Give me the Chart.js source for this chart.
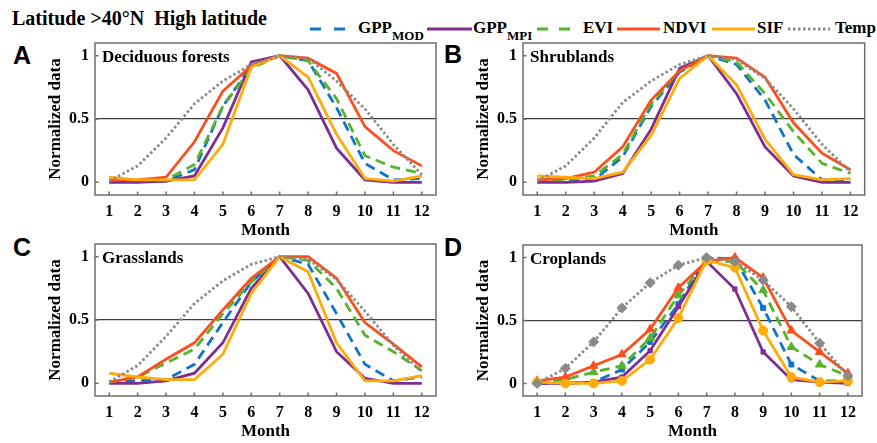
<!DOCTYPE html>
<html>
<head>
<meta charset="utf-8">
<script src="https://cdn.jsdelivr.net/npm/chart.js"></script>
<style>
  body { margin: 0; width: 877px; height: 443px; overflow: hidden; background: #fff; position: relative; font-family: 'Liberation Serif', 'Times New Roman', serif; }
  .abs { position: absolute; white-space: nowrap; }
  #title { left: 12px; top: 8px; font-size: 20px; line-height: 20px; font-weight: bold; }
  .leg { top: 19px; font-size: 17px; line-height: 17px; font-weight: bold; }
  .leg sub { font-size: 13px; vertical-align: -7px; line-height: 0; }
  .letter { font-family: 'Liberation Sans', Arial, sans-serif; font-size: 25px; line-height: 25px; font-weight: bold; }
  .panel { position: absolute; width: 440px; height: 205px; }
</style>
</head>
<body>
<div id="title" class="abs">Latitude &gt;40°N&nbsp; High latitude</div>

<svg class="abs" style="left:0;top:0" width="877" height="40">
  <line x1="310" y1="29" x2="345" y2="29" stroke="#0F74C4" stroke-width="3" stroke-dasharray="11 13"/>
  <line x1="427" y1="29" x2="472" y2="29" stroke="#7E2D91" stroke-width="3"/>
  <line x1="537" y1="29" x2="570" y2="29" stroke="#57B22C" stroke-width="3" stroke-dasharray="11 11"/>
  <line x1="617" y1="29" x2="660" y2="29" stroke="#FA501E" stroke-width="3"/>
  <line x1="712" y1="29" x2="755" y2="29" stroke="#FFAB0A" stroke-width="3"/>
  <line x1="788" y1="29" x2="830" y2="29" stroke="#8A8A8A" stroke-width="3" stroke-dasharray="2.5 2.5"/>
</svg>
<div class="abs leg" style="left:358px">GPP<sub>MOD</sub></div>
<div class="abs leg" style="left:473px">GPP<sub>MPI</sub></div>
<div class="abs leg" style="left:583px">EVI</div>
<div class="abs leg" style="left:663px">NDVI</div>
<div class="abs leg" style="left:757px">SIF</div>
<div class="abs leg" style="left:835px">Temp</div>

<div class="abs letter" style="left:13px;top:43px">A</div>
<div class="abs letter" style="left:444px;top:42px">B</div>
<div class="abs letter" style="left:13px;top:235px">C</div>
<div class="abs letter" style="left:444px;top:235px">D</div>

<div class="panel" style="left:0;top:38px"><canvas id="chartA" width="440" height="205"></canvas></div>
<div class="panel" style="left:428px;top:38px"><canvas id="chartB" width="440" height="205"></canvas></div>
<div class="panel" style="left:0;top:239px"><canvas id="chartC" width="440" height="205"></canvas></div>
<div class="panel" style="left:428px;top:239px"><canvas id="chartD" width="440" height="205"></canvas></div>

<script>
// months on the x axis
const months = ['1', '2', '3', '4', '5', '6', '7', '8', '9', '10', '11', '12'];
const yTicks = [0, 0.5, 1];

// A - Deciduous forests
const decidGppMod = [0.01, 0.01, 0.01, 0.10, 0.60, 0.92, 1.00, 0.96, 0.59, 0.15, 0.02, 0.03];
const decidGppMpi = [0.00, 0.00, 0.01, 0.05, 0.43, 0.95, 1.00, 0.73, 0.27, 0.02, 0.00, 0.00];
const decidEvi    = [0.02, 0.02, 0.02, 0.14, 0.60, 0.90, 1.00, 0.96, 0.66, 0.21, 0.12, 0.07];
const decidNdvi   = [0.02, 0.02, 0.04, 0.32, 0.72, 0.92, 1.00, 0.98, 0.86, 0.44, 0.25, 0.13];
const decidSif    = [0.04, 0.02, 0.02, 0.02, 0.30, 0.91, 1.00, 0.83, 0.38, 0.03, 0.01, 0.05];
const decidTemp   = [0.01, 0.13, 0.35, 0.62, 0.80, 0.93, 1.00, 0.98, 0.80, 0.58, 0.30, 0.06];

// B - Shrublands
const shrubGppMod = [0.01, 0.01, 0.02, 0.20, 0.60, 0.87, 1.00, 0.93, 0.65, 0.22, 0.02, 0.02];
const shrubGppMpi = [0.00, 0.00, 0.01, 0.07, 0.42, 0.90, 1.00, 0.70, 0.28, 0.05, 0.00, 0.00];
const shrubEvi    = [0.02, 0.02, 0.05, 0.22, 0.62, 0.88, 1.00, 0.95, 0.70, 0.40, 0.15, 0.07];
const shrubNdvi   = [0.02, 0.03, 0.08, 0.28, 0.65, 0.88, 1.00, 0.98, 0.83, 0.47, 0.23, 0.10];
const shrubSif    = [0.05, 0.04, 0.03, 0.08, 0.37, 0.82, 1.00, 0.77, 0.34, 0.06, 0.02, 0.03];
const shrubTemp   = [0.01, 0.13, 0.35, 0.63, 0.80, 0.93, 1.00, 0.97, 0.82, 0.58, 0.30, 0.08];

// C - Grasslands
const grassGppMod = [0.01, 0.02, 0.03, 0.15, 0.48, 0.80, 1.00, 0.94, 0.55, 0.15, 0.02, 0.05];
const grassGppMpi = [0.00, 0.00, 0.02, 0.08, 0.32, 0.75, 1.00, 0.71, 0.25, 0.04, 0.00, 0.00];
const grassEvi    = [0.01, 0.05, 0.16, 0.27, 0.55, 0.80, 1.00, 0.97, 0.75, 0.38, 0.25, 0.10];
const grassNdvi   = [0.01, 0.05, 0.19, 0.32, 0.58, 0.83, 1.00, 1.00, 0.83, 0.48, 0.31, 0.13];
const grassSif    = [0.08, 0.05, 0.03, 0.03, 0.23, 0.71, 1.00, 0.88, 0.32, 0.02, 0.02, 0.06];
const grassTemp   = [0.01, 0.14, 0.37, 0.63, 0.81, 0.94, 1.00, 0.98, 0.82, 0.57, 0.30, 0.09];

// D - Croplands
const cropGppMod = [0.00, 0.00, 0.01, 0.11, 0.33, 0.63, 1.00, 0.99, 0.60, 0.15, 0.02, 0.02];
const cropGppMpi = [0.00, 0.00, 0.01, 0.05, 0.26, 0.61, 0.97, 0.75, 0.25, 0.03, 0.01, 0.00];
const cropEvi    = [0.01, 0.03, 0.09, 0.14, 0.36, 0.70, 0.97, 0.97, 0.74, 0.29, 0.15, 0.06];
const cropNdvi   = [0.02, 0.05, 0.14, 0.23, 0.43, 0.76, 0.97, 1.00, 0.84, 0.42, 0.25, 0.08];
const cropSif    = [0.01, 0.00, 0.00, 0.02, 0.19, 0.52, 0.98, 0.92, 0.42, 0.05, 0.01, 0.02];
const cropTemp   = [0.00, 0.12, 0.33, 0.60, 0.80, 0.94, 1.00, 0.97, 0.82, 0.61, 0.32, 0.06];

const serif = "'Liberation Serif', 'Times New Roman', serif";

// line look of each series, same order as the legend
const seriesStyle = [
  { label: 'GPP MOD', color: '#0F74C4', dash: [10, 6], marker: 'rect', radius: 3.5 },
  { label: 'GPP MPI', color: '#7E2D91', dash: [], marker: 'rect', radius: 3 },
  { label: 'EVI', color: '#57B22C', dash: [10, 6], marker: 'triangle', radius: 5 },
  { label: 'NDVI', color: '#FA501E', dash: [], marker: 'triangle', radius: 5 },
  { label: 'SIF', color: '#FFAB0A', dash: [], marker: 'circle', radius: 4.5 },
  { label: 'Temp', color: '#8A8A8A', dash: [2.5, 2.5], marker: 'rectRot', radius: 5 }
];

// box, inner ticks and the panel name (MATLAB style axes)
const panelFrame = {
  id: 'panelFrame',
  beforeDatasetsDraw(chart, args, opts) {
    const { ctx, chartArea: a, scales: { x, y } } = chart;
    ctx.save();
    ctx.strokeStyle = '#6e6e6e';
    ctx.lineWidth = 1.5;
    ctx.strokeRect(a.left, a.top, a.right - a.left, a.bottom - a.top);
    ctx.beginPath();
    x.ticks.forEach((t, i) => {
      const px = x.getPixelForTick(i);
      ctx.moveTo(px, a.bottom);
      ctx.lineTo(px, a.bottom - 3.5);
    });
    y.ticks.forEach(t => {
      const py = y.getPixelForValue(t.value);
      ctx.moveTo(a.left, py);
      ctx.lineTo(a.left + 3.5, py);
    });
    ctx.stroke();
    ctx.fillStyle = '#000';
    ctx.font = 'bold 17px ' + serif;
    ctx.textBaseline = 'alphabetic';
    ctx.fillText(opts.name, a.left + 7, a.top + 19);
    ctx.restore();
  }
};

function makePanel(id, name, series, withMarkers, rightPad) {
  const datasets = series.map((vals, i) => {
    const s = seriesStyle[i];
    return {
      label: s.label,
      data: vals,
      borderColor: s.color,
      backgroundColor: s.color,
      borderWidth: 2.8,
      borderDash: s.dash,
      borderCapStyle: 'butt',
      tension: 0,
      fill: false,
      pointStyle: s.marker,
      pointRadius: withMarkers ? s.radius : 0,
      pointBorderWidth: 1,
      order: series.length - i
    };
  });

  return new Chart(document.getElementById(id), {
    type: 'line',
    data: { labels: months, datasets: datasets },
    options: {
      responsive: false,
      animation: false,
      layout: { padding: { top: 5, right: rightPad, bottom: 0, left: 0 } },
      plugins: {
        legend: { display: false },
        tooltip: { enabled: false },
        panelFrame: { name: name }
      },
      scales: {
        x: {
          type: 'category',
          offset: true,
          grid: { display: false, drawTicks: false },
          border: { display: false },
          ticks: { color: '#000', padding: 7, maxRotation: 0, autoSkip: false, font: { family: serif, size: 16, weight: 'bold' } },
          title: { display: true, text: 'Month', color: '#000', padding: { top: 0, bottom: 2 }, font: { family: serif, size: 17, weight: 'bold' } },
          afterFit(scale) {
            scale.height = 48;
            scale.paddingLeft = 0;
            scale.paddingRight = 0;
          }
        },
        y: {
          min: -0.1,
          max: 1.1,
          afterBuildTicks(scale) {
            scale.ticks = yTicks.map(v => ({ value: v }));
          },
          grid: {
            drawTicks: false,
            color: ctx => (ctx.tick && ctx.tick.value === 0.5) ? '#3c3c3c' : 'rgba(0,0,0,0)',
            lineWidth: 1.2
          },
          border: { display: false },
          ticks: {
            color: '#000',
            padding: 6,
            font: { family: serif, size: 16, weight: 'bold' },
            callback: v => String(v)
          },
          title: { display: true, text: 'Normalized data', color: '#000', padding: { top: 45, bottom: 0 }, font: { family: serif, size: 17, weight: 'bold' } },
          afterFit(scale) {
            scale.width = 95;
            scale.paddingTop = 0;
            scale.paddingBottom = 0;
          }
        }
      }
    },
    plugins: [panelFrame]
  });
}

makePanel('chartA', 'Deciduous forests', [decidGppMod, decidGppMpi, decidEvi, decidNdvi, decidSif, decidTemp], false, 4);
makePanel('chartB', 'Shrublands', [shrubGppMod, shrubGppMpi, shrubEvi, shrubNdvi, shrubSif, shrubTemp], false, 3.3);
makePanel('chartC', 'Grasslands', [grassGppMod, grassGppMpi, grassEvi, grassNdvi, grassSif, grassTemp], false, 4);
makePanel('chartD', 'Croplands', [cropGppMod, cropGppMpi, cropEvi, cropNdvi, cropSif, cropTemp], true, 3.3);
</script>
</body>
</html>
